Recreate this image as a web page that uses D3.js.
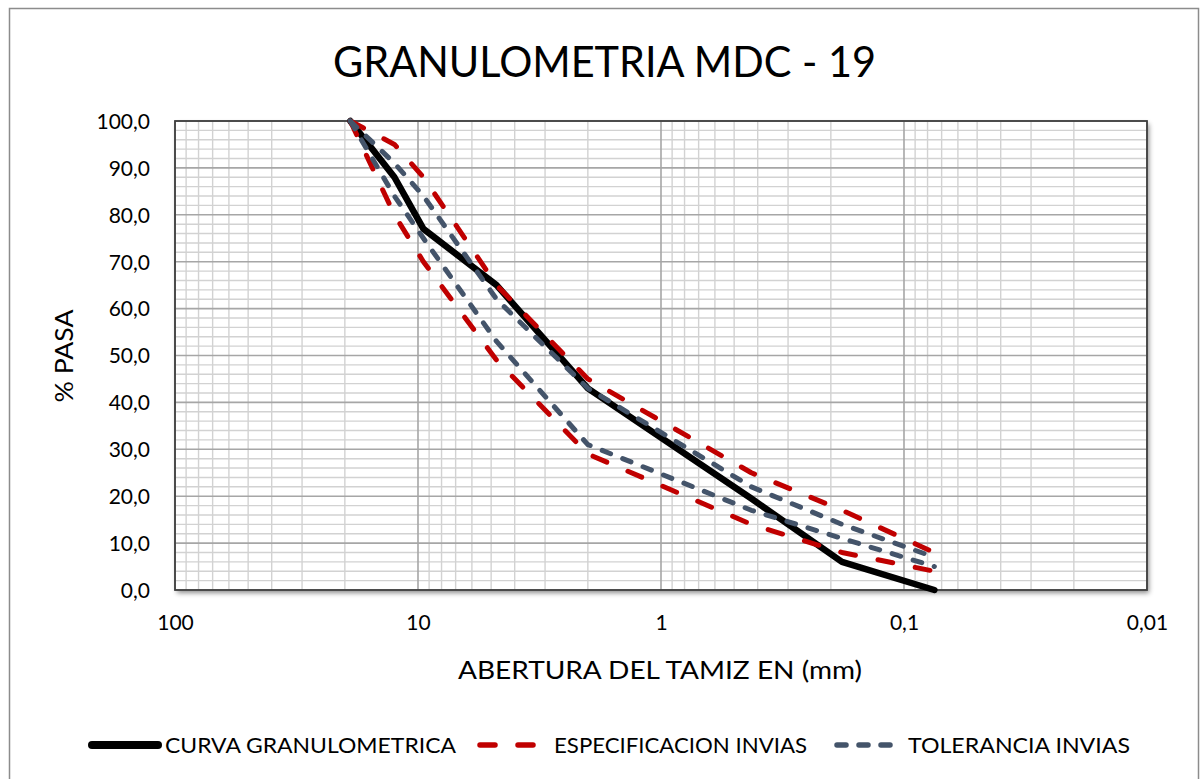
<!DOCTYPE html>
<html>
<head>
<meta charset="utf-8">
<script src="https://cdn.jsdelivr.net/npm/d3@7"></script>
<style>
  html, body { margin: 0; padding: 0; background: #fff; }
  svg { display: block; }
  text { font-family: Lato, "Open Sans", "Liberation Sans", sans-serif; fill: #000; }
</style>
</head>
<body>
<svg id="chart" width="1200" height="779"></svg>
<script>
// Sieve openings (mm) and percent passing
const sieves      = [19, 12.5, 9.5, 4.75, 2.0, 0.425, 0.18, 0.075];
const curve       = [100, 88, 77, 65, 43, 19.5, 6, 0];
const specUpper   = [100, 95, 88, 65, 45, 25, 17, 8];
const specLower   = [100, 80, 70, 49, 29, 14, 8, 4];
const tolUpper    = [100, 91, 84, 62, 43, 22, 14, 7];
const tolLower    = [100, 84, 75, 53, 31, 17, 11, 5];

const xTickValues = [100, 10, 1, 0.1, 0.01];
const xTickLabels = ["100", "10", "1", "0,1", "0,01"];
const yTickValues = [0, 10, 20, 30, 40, 50, 60, 70, 80, 90, 100];

const svg = d3.select("#chart");
const W = 1200, H = 779;
const plot = { left: 175, right: 1147, top: 121, bottom: 590 };

const x = d3.scaleLog().domain([100, 0.01]).range([plot.left, plot.right]);
const y = d3.scaleLinear().domain([0, 100]).range([plot.bottom, plot.top]);

// outer chart frame
svg.append("rect")
  .attr("x", 9.5).attr("y", 8.5).attr("width", 1189).attr("height", 790)
  .attr("fill", "#fff").attr("stroke", "#8c8c8c").attr("stroke-width", 1.5);

// shadow for the plot area
const defs = svg.append("defs");
const f = defs.append("filter").attr("id", "shadow")
  .attr("x", "-5%").attr("y", "-5%").attr("width", "110%").attr("height", "115%");
f.append("feDropShadow").attr("dx", 2).attr("dy", 3).attr("stdDeviation", 2.5)
  .attr("flood-color", "#000").attr("flood-opacity", 0.45);

svg.append("rect")
  .attr("x", plot.left).attr("y", plot.top)
  .attr("width", plot.right - plot.left).attr("height", plot.bottom - plot.top)
  .attr("fill", "#fff").attr("filter", "url(#shadow)");

// grid
const grid = svg.append("g");
const minorX = [];
for (let e = -2; e <= 1; e++) {
  for (let k = 2; k <= 9; k++) minorX.push(k * Math.pow(10, e));
}
grid.selectAll("line.vminor").data(minorX).join("line")
  .attr("x1", d => x(d)).attr("x2", d => x(d))
  .attr("y1", plot.top).attr("y2", plot.bottom)
  .attr("stroke", "#d2d2d2").attr("stroke-width", 1.4);

const minorY = d3.range(2, 100, 2).filter(v => v % 10 !== 0);
grid.selectAll("line.hminor").data(minorY).join("line")
  .attr("x1", plot.left).attr("x2", plot.right)
  .attr("y1", d => y(d)).attr("y2", d => y(d))
  .attr("stroke", "#d2d2d2").attr("stroke-width", 1.4);

grid.selectAll("line.vmajor").data(xTickValues).join("line")
  .attr("x1", d => x(d)).attr("x2", d => x(d))
  .attr("y1", plot.top).attr("y2", plot.bottom)
  .attr("stroke", "#a6a6a6").attr("stroke-width", 1.6);

grid.selectAll("line.hmajor").data(yTickValues).join("line")
  .attr("x1", plot.left).attr("x2", plot.right)
  .attr("y1", d => y(d)).attr("y2", d => y(d))
  .attr("stroke", "#a6a6a6").attr("stroke-width", 1.6);

// plot border
svg.append("rect")
  .attr("x", plot.left).attr("y", plot.top)
  .attr("width", plot.right - plot.left).attr("height", plot.bottom - plot.top)
  .attr("fill", "none").attr("stroke", "#404040").attr("stroke-width", 1.8);

// axes (labels only, lines hidden)
const yAxis = d3.axisLeft(y).tickValues(yTickValues).tickSize(0).tickPadding(0)
  .tickFormat(d => d3.format(".1f")(d).replace(".", ","));
const gy = svg.append("g").attr("transform", `translate(${plot.left - 25},0)`).call(yAxis);
gy.select(".domain").remove();
gy.selectAll("text").attr("font-size", 21).attr("font-family", "Lato, 'Open Sans', sans-serif")
  .attr("fill", "#000").attr("dy", "0.35em");

const xAxis = d3.axisBottom(x).tickValues(xTickValues).tickSize(0).tickPadding(0)
  .tickFormat((d, i) => xTickLabels[i]);
const gx = svg.append("g").attr("transform", `translate(0,${plot.bottom + 27})`).call(xAxis);
gx.select(".domain").remove();
gx.selectAll("text").attr("font-size", 21).attr("font-family", "Lato, 'Open Sans', sans-serif")
  .attr("fill", "#000").attr("dy", "0.6em");

// series
const pts = vals => sieves.map((s, i) => [s, vals[i]]);
const line = d3.line().x(d => x(d[0])).y(d => y(d[1]));

const series = [
  { vals: curve,     color: "#000000", width: 6.5, dash: null },
  { vals: specUpper, color: "#c00000", width: 5,   dash: "15,23" },
  { vals: specLower, color: "#c00000", width: 5,   dash: "15,23" },
  { vals: tolUpper,  color: "#44546a", width: 5,   dash: "9,13" },
  { vals: tolLower,  color: "#44546a", width: 5,   dash: "9,13" }
];
const gs = svg.append("g");
series.forEach(s => {
  gs.append("path")
    .attr("d", line(pts(s.vals)))
    .attr("fill", "none")
    .attr("stroke", s.color)
    .attr("stroke-width", s.width)
    .attr("stroke-linejoin", "round")
    .attr("stroke-linecap", "round")
    .attr("stroke-dasharray", s.dash);
});

// title
svg.append("text").attr("x", 604.5).attr("y", 77).attr("text-anchor", "middle")
  .attr("font-size", 43).attr("textLength", 543).attr("lengthAdjust", "spacingAndGlyphs")
  .text("GRANULOMETRIA MDC - 19");

// axis titles
svg.append("text").attr("x", 660).attr("y", 679).attr("text-anchor", "middle")
  .attr("font-size", 25).attr("textLength", 404).attr("lengthAdjust", "spacingAndGlyphs")
  .text("ABERTURA DEL TAMIZ EN (mm)");

svg.append("text")
  .attr("transform", "translate(73,356) rotate(-90)")
  .attr("text-anchor", "middle")
  .attr("font-size", 25).attr("textLength", 93).attr("lengthAdjust", "spacingAndGlyphs")
  .text("% PASA");

// legend
const legY = 745;
const leg = svg.append("g");
leg.append("line").attr("x1", 92).attr("x2", 158).attr("y1", legY).attr("y2", legY)
  .attr("stroke", "#000").attr("stroke-width", 8).attr("stroke-linecap", "round");
leg.append("text").attr("x", 165).attr("y", legY + 8).attr("font-size", 22)
  .attr("textLength", 291).attr("lengthAdjust", "spacingAndGlyphs").text("CURVA GRANULOMETRICA");

leg.append("line").attr("x1", 480).attr("x2", 535).attr("y1", legY).attr("y2", legY)
  .attr("stroke", "#c00000").attr("stroke-width", 5.5).attr("stroke-linecap", "round")
  .attr("stroke-dasharray", "15,23");
leg.append("text").attr("x", 554).attr("y", legY + 8).attr("font-size", 22)
  .attr("textLength", 253).attr("lengthAdjust", "spacingAndGlyphs").text("ESPECIFICACION INVIAS");

leg.append("line").attr("x1", 837).attr("x2", 903).attr("y1", legY).attr("y2", legY)
  .attr("stroke", "#44546a").attr("stroke-width", 5.5).attr("stroke-linecap", "round")
  .attr("stroke-dasharray", "9,13");
leg.append("text").attr("x", 908).attr("y", legY + 8).attr("font-size", 22)
  .attr("textLength", 222).attr("lengthAdjust", "spacingAndGlyphs").text("TOLERANCIA INVIAS");
</script>
</body>
</html>
